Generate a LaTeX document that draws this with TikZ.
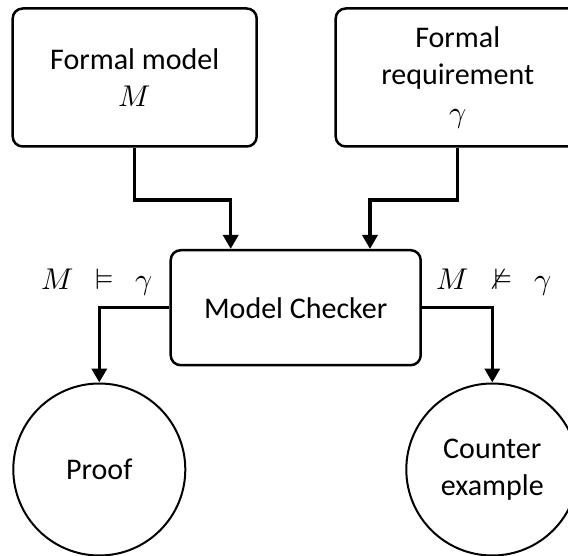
\documentclass[tikz,border=0pt]{standalone}
\usepackage{amsmath}
\usepackage{fontspec}
\usepackage{unicode-math}
\setmainfont{Carlito}
\setmathfont{Latin Modern Math}
\usepackage{tikz}
\usetikzlibrary{arrows.meta}

\begin{document}
\begin{tikzpicture}[x=1pt, y=-1pt,
    every node/.style={font=\fontsize{30}{37.5}\selectfont},
    block/.style={draw, rounded corners=10pt, line width=2.5pt, align=center,
        minimum width=244pt, minimum height=138pt, inner sep=0pt},
    result/.style={draw, circle, line width=2pt, align=center,
        minimum size=172pt, inner sep=0pt},
    conn/.style={line width=3.5pt, -{Triangle[width=15pt, length=14pt]}}]

    % Frame of the page (the right side is cut)
    \useasboundingbox (0,0) rectangle (568,556);
    \clip (0,0) rectangle (568,556);

    % ==========================================
    % INPUTS (Top)
    % ==========================================
    \node[block] (model) at (134.7, 77.5) {Formal model\\$M$};
    \node[block] (req) at (457.7, 77.5) {Formal\\requirement\\$\gamma$};

    % Model Checker
    \node[block, minimum width=250pt, minimum height=115pt] (checker) at (295.7, 307.7) {Model Checker};

    % Inputs into the checker
    \draw[conn] (model.south) -- ++(0, 52.3) -| ([xshift=-65pt]checker.north);
    \draw[conn] (req.south) -- ++(0, 52.3) -| ([xshift=74.3pt]checker.north);

    % ==========================================
    % RESULTS (Bottom)
    % ==========================================
    \node[result] (proof) at (99.3, 469.5) {Proof};
    \node[result] (counter) at (492.3, 469.5) {Counter\\example};

    % Verdicts
    \node[anchor=base] (holds) at (96.7, 290) {$M\hspace{0.45em}\vDash\hspace{0.45em}\gamma$};
    \node[anchor=base] (fails) at (494, 290) {$M\hspace{0.45em}\nvDash\hspace{0.45em}\gamma$};

    \draw[conn] (checker.west) -| (proof.north);
    \draw[conn] (checker.east) -| (counter.north);
\end{tikzpicture}
\end{document}
